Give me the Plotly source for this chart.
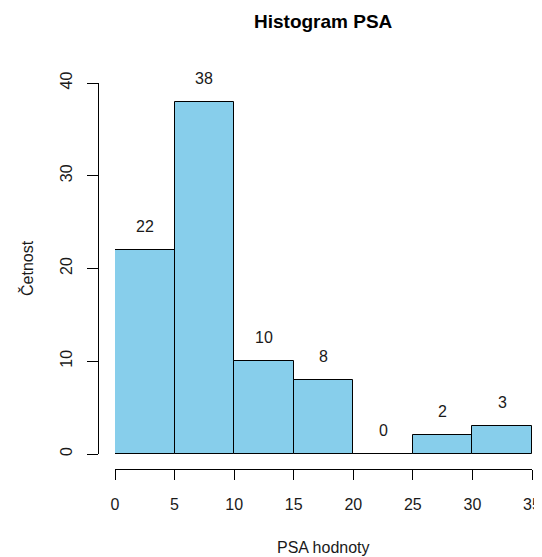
import plotly.graph_objects as go

# histogram bins (PSA values) and counts
bin_edges = [0, 5, 10, 15, 20, 25, 30, 35]
counts = [22, 38, 10, 8, 0, 2, 3]
x_ticks = [0, 5, 10, 15, 20, 25, 30, 35]
y_ticks = [0, 10, 20, 30, 40]

# page has an 8px body margin, so the figure is placed at (8, 8)
W, H = 534, 549
centers = [(a + b) / 2 for a, b in zip(bin_edges[:-1], bin_edges[1:])]
widths = [b - a for a, b in zip(bin_edges[:-1], bin_edges[1:])]

font = dict(family="Liberation Sans, Arial, sans-serif", size=16, color="#1a1a1a")

fig = go.Figure()
fig.add_trace(go.Bar(
    x=centers, y=counts, width=widths,
    marker=dict(color="#87CEEB", line=dict(color="black", width=1)),
    hoverinfo="x+y", showlegend=False,
))

# count labels above the bars (like hist(labels=TRUE))
annotations = []
for cx, c in zip(centers, counts):
    annotations.append(dict(x=cx, y=c, xref="x", yref="y", text=str(c),
                            showarrow=False, yanchor="bottom", yshift=13,
                            font=font))

annotations += [
    dict(text="<b>Histogram PSA</b>", x=315 / W, y=(H - 14) / H,
         xref="paper", yref="paper", showarrow=False,
         xanchor="center", yanchor="middle",
         font=dict(family="Liberation Sans, Arial, sans-serif", size=19, color="black")),
    dict(text="PSA hodnoty", x=315 / W, y=(H - 539) / H,
         xref="paper", yref="paper", showarrow=False,
         xanchor="center", yanchor="middle", font=font),
    dict(text="Četnost", x=19 / W, y=(H - 260) / H, textangle=-90,
         xref="paper", yref="paper", showarrow=False,
         xanchor="center", yanchor="middle", font=font),
]

fig.update_layout(
    width=W, height=H,
    margin=dict(l=0, r=0, t=0, b=0, autoexpand=False),
    paper_bgcolor="white", plot_bgcolor="white",
    font=font,
    bargap=0,
    xaxis=dict(
        domain=[107 / W, 524 / W], range=[0, 35],
        anchor="free", position=88 / H, automargin=False,
        tickvals=x_ticks, ticks="outside", ticklen=10, tickcolor="black",
        showline=True, linecolor="black", linewidth=1,
        showgrid=False, zeroline=False, ticklabelstandoff=11,
    ),
    yaxis=dict(
        domain=[103 / H, 474 / H], range=[0, 40],
        anchor="free", position=90 / W, automargin=False,
        tickvals=y_ticks, ticks="outside", ticklen=11, tickcolor="black",
        tickangle=-90,
        showline=True, linecolor="black", linewidth=1,
        showgrid=False, zeroline=False, ticklabelstandoff=9,
    ),
    annotations=annotations,
)

fig.write_html("out.html")
